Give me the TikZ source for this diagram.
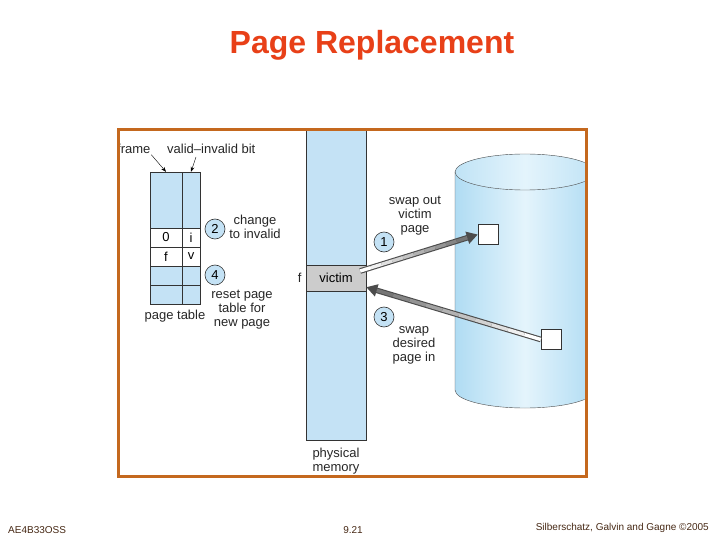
\documentclass[tikz,border=0pt]{standalone}
\usepackage{fontspec}
\setmainfont{Liberation Sans}
\usetikzlibrary{arrows.meta,positioning,calc}
\definecolor{slideorange}{RGB}{196,104,30}
\definecolor{titlered}{RGB}{232,64,24}
\definecolor{memblue}{RGB}{196,226,245}
\definecolor{cylblue}{RGB}{176,220,243}
\definecolor{cylpale}{RGB}{228,244,252}
\definecolor{footbrown}{RGB}{70,40,20}
% shaded fat arrow: white tail, dark head
\newcommand{\fatarrow}[2]{%
  \draw[line width=5.6pt,black!70,-{Triangle[length=11pt,width=12pt]}] (#1) -- (#2);
  \coordinate (#2n) at ($(#2)!11pt!(#1)$);
  \foreach \i [evaluate=\i as \c using 6*\i, evaluate=\i as \a using \i/10,
               evaluate=\i as \b using (\i+1)/10] in {0,...,9}
    \draw[line width=3.4pt,black!\c] ($(#1)!\a!(#2n)$) -- ($(#1)!\b!(#2n)$);
}

\begin{document}
\begin{tikzpicture}[x=1pt,y=-1pt,>={Stealth[length=5pt]},
    lbl/.style={font=\fontsize{13}{14}\selectfont,text=black!85,align=center,inner sep=0pt},
    stepno/.style={circle,draw=black!80,semithick,fill=memblue,minimum size=20pt,inner sep=0pt,font=\fontsize{13}{14}\selectfont},
    cell/.style={draw=black!80,minimum height=19pt,inner sep=0pt,font=\fontsize{13}{14}\selectfont},
    blk/.style={draw=black!80,fill=white,minimum size=20pt,inner sep=0pt},
    foot/.style={font=\fontsize{10}{12}\selectfont,text=footbrown,inner sep=0pt}]
  \useasboundingbox (0,0) rectangle (720,540);
  % title
  \node[font=\fontsize{32}{36}\selectfont\bfseries,text=titlered] (title) at (372,45) {Page Replacement};

  \begin{scope}
    \clip (119.5,131.5) rectangle (584.5,474.5);
    % disk
    \shade[left color=cylblue,right color=cylblue,middle color=cylpale]
      (455,172) -- (455,390) arc[start angle=180,end angle=0,x radius=70,y radius=18]
      -- (595,172) arc[start angle=0,end angle=-180,x radius=70,y radius=18] -- cycle;
    \shade[left color=cylblue!80,right color=cylblue!80,middle color=cylpale]
      (525,172) ellipse[x radius=70,y radius=18];
    \draw[black!70] (525,172) ellipse[x radius=70,y radius=18];
    \draw[black!70] (455,172) -- (455,390) arc[start angle=180,end angle=0,x radius=70,y radius=18] -- (595,172);
    % physical memory
    \node[draw=black!80,fill=memblue,minimum width=60pt,minimum height=312pt,inner sep=0pt] (mem) at (336,284) {};
    \node[draw=black!80,fill=black!20,minimum width=60pt,minimum height=26pt,inner sep=0pt,
          font=\fontsize{13}{14}\selectfont] (victim) at (336,278) {victim};
    \node[lbl,left=4pt of victim] (flbl) {f};
    \node[lbl,anchor=west] (frlbl) at (117,149) {frame};
  \end{scope}
  \draw[slideorange,line width=3pt] (118,130) rectangle (586,476);

  % page table
  \node[cell,fill=memblue,minimum width=32pt,minimum height=56pt] (ftop) at (166,200) {};
  \node[cell,fill=memblue,minimum width=18pt,minimum height=56pt] (vtop) at (191,200) {};
  \node[cell,fill=white,minimum width=32pt] (f0) at (166,237.5) {0};
  \node[cell,fill=white,minimum width=18pt] (v0) at (191,237.5) {i};
  \node[cell,fill=white,minimum width=32pt] (f1) at (166,256.5) {f};
  \node[cell,fill=white,minimum width=18pt] (v1) at (191,256.5) {v};
  \node[cell,fill=memblue,minimum width=32pt] (f2) at (166,275.5) {};
  \node[cell,fill=memblue,minimum width=18pt] (v2) at (191,275.5) {};
  \node[cell,fill=memblue,minimum width=32pt] (f3) at (166,294.5) {};
  \node[cell,fill=memblue,minimum width=18pt] (v3) at (191,294.5) {};
  \node[lbl] (ptlbl) at (175,316) {page table};
  \node[lbl,anchor=west] (vilbl) at (167,149) {valid--invalid bit};
  \draw[->,shorten <=1pt] (frlbl.south east) -- (ftop.north);
  \draw[->] (vilbl.south west) ++(29,3) -- (vtop.north);

  % steps on the table
  \node[stepno] (stp2) at (215,229) {2};
  \node[lbl] (chg) at (255,227) {change\\to invalid};
  \node[stepno] (stp4) at (215,275) {4};
  \node[lbl] (rst) at (242,310) {reset page\\table for\\new page};

  % swap space blocks
  \node[blk] (sqout) at (488,234.5) {};
  \node[blk] (sqin) at (551,339.5) {};

  % swap arrows
  \coordinate (outtail) at ($(victim.east)+(-6,-7)$);
  \coordinate (outtip) at (sqout.west);
  \fatarrow{outtail}{outtip}
  \coordinate (intail) at (sqin.west);
  \coordinate (intip) at ($(victim.south east)+(0,-4)$);
  \fatarrow{intail}{intip}

  \node[stepno] (stp1) at (384,242) {1};
  \node[lbl] (outtxt) at (415,216) {swap out\\victim\\page};
  \node[stepno] (stp3) at (384,317) {3};
  \node[lbl] (intxt) at (414,345) {swap\\desired\\page in};
  \node[lbl] (memlbl) at (336,461) {physical\\memory};

  % footer
  \node[foot,anchor=west] (course) at (8,530) {AE4B33OSS};
  \node[foot] (pageno) at (353,530) {9.21};
  \node[foot,anchor=east] (copy) at (709,528) {Silberschatz, Galvin and Gagne ©2005};
\end{tikzpicture}
\end{document}
